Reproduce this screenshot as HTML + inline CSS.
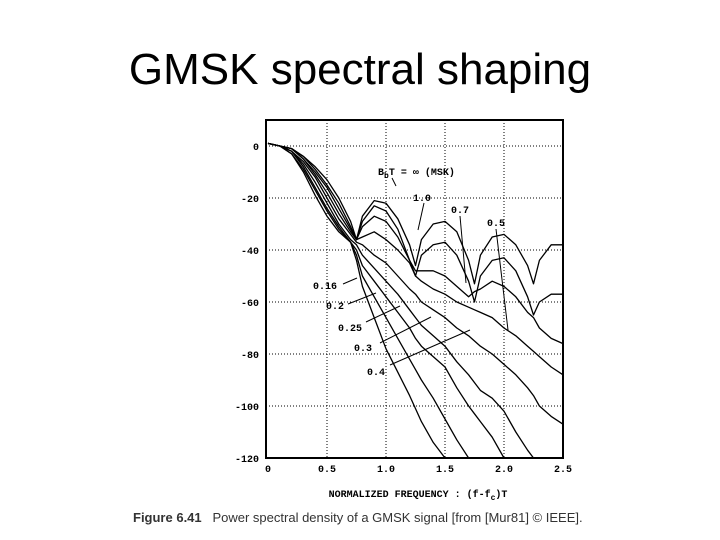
<!DOCTYPE html>
<html><head><meta charset="utf-8"><style>
body{margin:0;background:#fff;width:720px;height:540px;overflow:hidden;font-family:"Liberation Sans",sans-serif}
svg{position:absolute;left:0;top:0}
</style></head><body>
<svg id="c" width="720" height="540">
<text x="360" y="84" text-anchor="middle" font-size="44" font-family="Liberation Sans">GMSK spectral shaping</text>
<g id="grid"></g>
<g id="curves"></g>
<g id="axes"></g>
<g font-family="Liberation Mono" font-size="10" font-weight="bold">
<text x="378" y="175">B<tspan font-size="8" dy="3">b</tspan><tspan dy="-3">T = ∞ (MSK)</tspan></text>
<text x="413" y="201">1.0</text>
<text x="451" y="213">0.7</text>
<text x="487" y="226">0.5</text>
<text x="313" y="289">0.16</text>
<text x="326" y="309">0.2</text>
<text x="338" y="331">0.25</text>
<text x="354" y="351">0.3</text>
<text x="367" y="375">0.4</text>
<g stroke="#000" stroke-width="1">
<line x1="392" y1="178" x2="396" y2="186"/><line x1="424" y1="203" x2="418" y2="230"/>
<line x1="460" y1="216" x2="466" y2="283"/><line x1="496" y1="229" x2="508" y2="330"/>
<line x1="343" y1="284" x2="357" y2="278"/><line x1="348" y1="304" x2="376" y2="293"/>
<line x1="366" y1="322" x2="400" y2="306"/><line x1="380" y1="343" x2="431" y2="317"/>
<line x1="390" y1="365" x2="470" y2="330"/>
</g></g>
<text x="418" y="497" text-anchor="middle" font-family="Liberation Mono" font-size="10" font-weight="bold">NORMALIZED FREQUENCY : (f-f<tspan font-size="8" dy="3">c</tspan><tspan dy="-3">)T</tspan></text>
<text x="133" y="522" font-size="13" fill="#333" xml:space="preserve" style="white-space:pre"><tspan font-weight="bold">Figure 6.41</tspan>   Power spectral density of a GMSK signal [from [Mur81] © IEEE].</text>
</svg>
<script>
const xTicks=[0,0.5,1.0,1.5,2.0,2.5];
const xTickLabels=["0","0.5","1.0","1.5","2.0","2.5"];
const yTicks=[0,-20,-40,-60,-80,-100,-120];
const yTickLabels=["0","-20","-40","-60","-80","-100","-120"];
const xs=[0,.1,.2,.3,.4,.5,.6,.7,.75,.8,.9,1.0,1.1,1.2,1.25,1.3,1.4,1.5,1.6,1.7,1.75,1.8,1.9,2.0,2.1,2.2,2.25,2.3,2.4,2.5];
const sMSK=[1,0,-1,-4,-8,-13,-20,-29,-36,-27,-21,-22,-28,-38,-46,-36,-30,-29,-33,-44,-53,-42,-35,-34,-38,-46,-53,-44,-38,-38];
const s10=[1,0,-1,-4,-9,-15,-22,-31,-36,-29,-23,-25,-32,-44,-50,-42,-38,-37,-42,-52,-60,-50,-44,-43,-48,-58,-65,-60,-57,-57];
const s07=[1,0,-1,-5,-10,-16,-24,-32,-36,-31,-27,-29,-35,-44,-48,-48,-48,-50,-54,-58,-56,-55,-52,-54,-58,-64,-66,-70,-74,-76];
const s05=[1,0,-1,-5,-11,-18,-26,-33,-36,-35,-33,-36,-40,-45,-50,-52,-55,-57,-60,-62,-63,-64,-66,-70,-73,-77,-79,-81,-85,-88];
const s04=[1,0,-2,-6,-12,-20,-28,-34,-37,-38,-42,-45,-50,-55,-57,-60,-63,-66,-70,-73,-75,-77,-80,-84,-88,-93,-96,-100,-104,-107];
const s03=[1,0,-2,-7,-14,-22,-30,-36,-38,-42,-47,-52,-57,-63,-66,-69,-73,-77,-83,-88,-91,-94,-97,-102,-110,-117,-120];
const s025=[1,0,-2,-8,-16,-24,-31,-37,-40,-46,-52,-58,-64,-70,-74,-77,-81,-85,-93,-100,-103,-106,-112,-120];
const s02=[1,0,-3,-9,-17,-25,-32,-37,-42,-50,-58,-66,-74,-82,-86,-90,-97,-105,-113,-120];
const s016=[1,0,-3,-10,-19,-27,-33,-37,-44,-54,-66,-78,-87,-96,-101,-106,-114,-120];
const series=[sMSK,s10,s07,s05,s04,s03,s025,s02,s016];
const seriesNames=["msk","bt-1.0","bt-0.7","bt-0.5","bt-0.4","bt-0.3","bt-0.25","bt-0.2","bt-0.16"];
const X0=268,X1=563,Y0=146,Y1=458;
const sx=v=>X0+(v/2.5)*(X1-X0);
const sy=v=>Y0+(-v/120)*(Y1-Y0);
const NS="http://www.w3.org/2000/svg";
function mk(t,a,p){const e=document.createElementNS(NS,t);for(const k in a)e.setAttribute(k,a[k]);p.appendChild(e);return e;}
const grid=document.getElementById('grid'),axes=document.getElementById('axes'),cv=document.getElementById('curves');
xTicks.forEach((t,i)=>{
 if(i>0&&i<xTicks.length-1){const l=mk('line',{x1:sx(t),x2:sx(t),y1:120,y2:Y1,stroke:'#000','stroke-width':1,'stroke-dasharray':'1,2'},grid);
 
 }
 const tx=mk('text',{x:sx(t),y:472,'text-anchor':'middle','font-family':'Liberation Mono','font-size':10,'font-weight':'bold'},axes);
 tx.textContent=xTickLabels[i];
 
 
});
yTicks.forEach((t,i)=>{
 if(i<yTicks.length-1){const l=mk('line',{x1:X0-2,x2:X1,y1:sy(t),y2:sy(t),stroke:'#000','stroke-width':1,'stroke-dasharray':'1,2'},grid);
 
 }
 const tx=mk('text',{x:259,y:sy(t)+4,'text-anchor':'end','font-family':'Liberation Mono','font-size':10,'font-weight':'bold'},axes);
 tx.textContent=yTickLabels[i];
 
 
});
const fr=mk('rect',{x:X0-2,y:120,width:X1-X0+2,height:Y1-120,fill:'none',stroke:'#000','stroke-width':2},axes);


series.forEach((s,i)=>{
 const d=s.map((v,j)=>(j?'L':'M')+sx(xs[j]).toFixed(1)+','+sy(v).toFixed(1)).join('');
 const p=mk('path',{d:d,fill:'none',stroke:'#000','stroke-width':1.3,'stroke-linejoin':'round'},cv);
 
 
});
</script>
</body></html>
